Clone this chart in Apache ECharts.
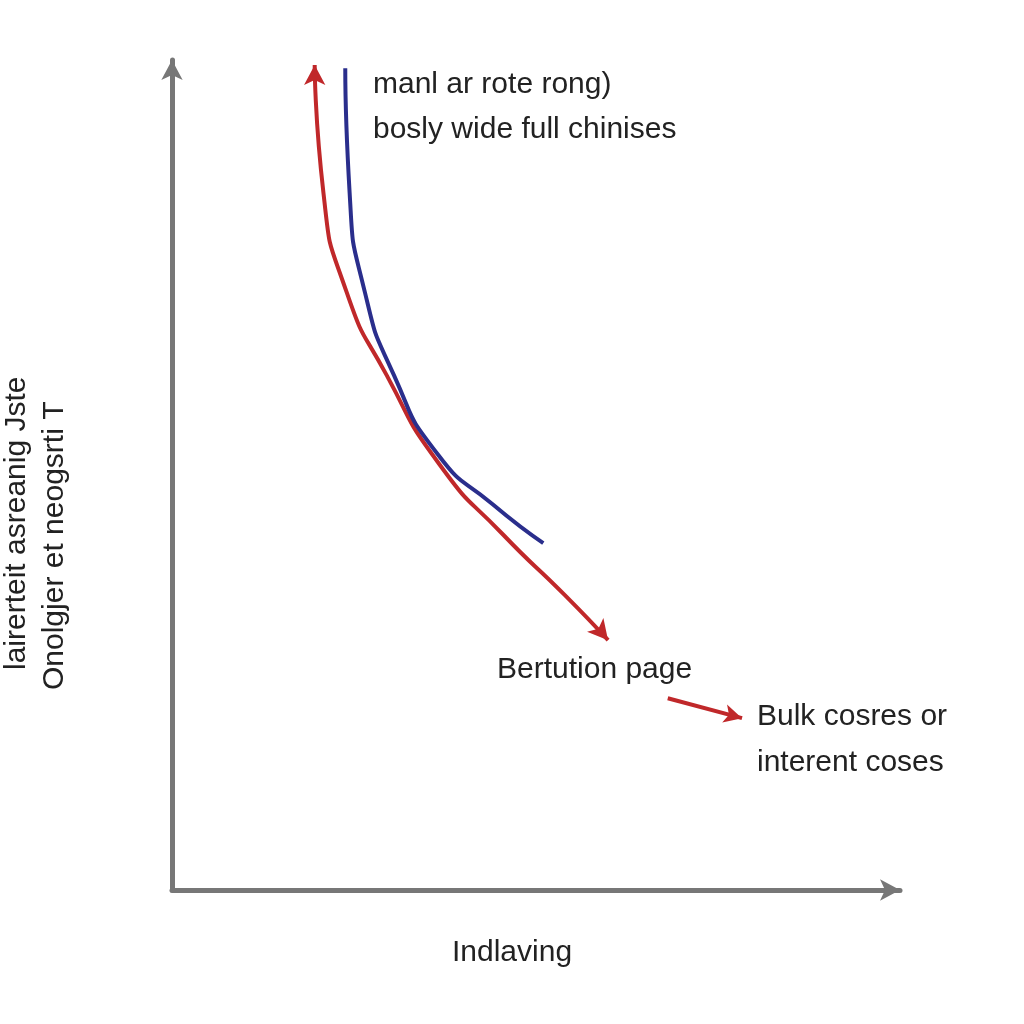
<!DOCTYPE html>
<html><head><meta charset="utf-8">
<script src="https://cdn.jsdelivr.net/npm/echarts@6/dist/echarts.min.js"></script>
<style>html,body{margin:0;background:#fff}#main{width:1024px;height:1024px}</style>
</head><body><div id="main"></div>
<script>
// curve points (x 0..100, y 0..100)
var redX = [19.6, 20.8, 24.0, 29.5, 36.8, 45.5, 54.0, 59.9];
var redY = [99.4, 84.0, 72.0, 62.0, 51.2, 42.8, 35.5, 30.1];
var blueX = [23.8, 24.4, 26.5, 30.5, 36.5, 44.0, 51.0];
var blueY = [99.0, 84.0, 72.0, 62.0, 52.5, 46.5, 41.8];
var smallX = [68.1, 78.3];
var smallY = [23.1, 20.7];

function pts(xs, ys, startRot, endRot){
    var out = [];
    for(var i = 0; i < xs.length; i++){
        var p = {value: [xs[i], ys[i]], symbol: 'none'};
        if(i == 0 && startRot != null){ p.symbol = 'arrow'; p.symbolRotate = startRot; }
        if(i == xs.length - 1 && endRot != null){ p.symbol = 'arrow'; p.symbolRotate = endRot; }
        out.push(p);
    }
    return out;
}
var txt = function(x, y, s){
    return {type: 'text', left: x, top: y, style: {text: s, fontSize: 30, fill: '#222', fontFamily: 'Liberation Sans'}};
};
var chart = echarts.init(document.getElementById('main'));
chart.setOption({
    animation: false,
    grid: {left: 172, right: 124, top: 60, bottom: 134},
    xAxis: {type: 'value', min: 0, max: 100, axisLabel: {show: false}, axisTick: {show: false}, splitLine: {show: false},
        axisLine: {lineStyle: {color: '#777', width: 5}, symbol: ['none', 'arrow'], symbolSize: [16, 20]}},
    yAxis: {type: 'value', min: 0, max: 100, axisLabel: {show: false}, axisTick: {show: false}, splitLine: {show: false},
        axisLine: {lineStyle: {color: '#777', width: 5}, symbol: ['none', 'arrow'], symbolSize: [16, 20]}},
    series: [
        {type: 'line', smooth: 0.6, data: pts(redX, redY, 0, -140), symbolSize: [16, 20], showSymbol: true,
            itemStyle: {color: '#c0282a'}, lineStyle: {color: '#c0282a', width: 4}},
        {type: 'line', smooth: 0.6, data: pts(blueX, blueY, null, null), symbol: 'none',
            lineStyle: {color: '#2a2e8c', width: 4}},
        {type: 'line', data: pts(smallX, smallY, null, -105), symbolSize: [14, 18],
            itemStyle: {color: '#c0282a'}, lineStyle: {color: '#c0282a', width: 4}}
    ],
    graphic: [
        txt(373, 70, 'manl ar rote rong)'),
        txt(373, 115, 'bosly wide full chinises'),
        txt(497, 655, 'Bertution page'),
        txt(757, 702, 'Bulk cosres or'),
        txt(757, 748, 'interent coses'),
        txt(452, 938, 'Indlaving'),
        {type: 'text', x: 2, y: 670, rotation: Math.PI / 2, style: {text: 'lairerteit asreanig Jste', fontSize: 30, fill: '#222', fontFamily: 'Liberation Sans'}},
        {type: 'text', x: 40, y: 690, rotation: Math.PI / 2, style: {text: 'Onolgjer et neogsrti T', fontSize: 30, fill: '#222', fontFamily: 'Liberation Sans'}}
    ]
});
</script>
</body></html>
